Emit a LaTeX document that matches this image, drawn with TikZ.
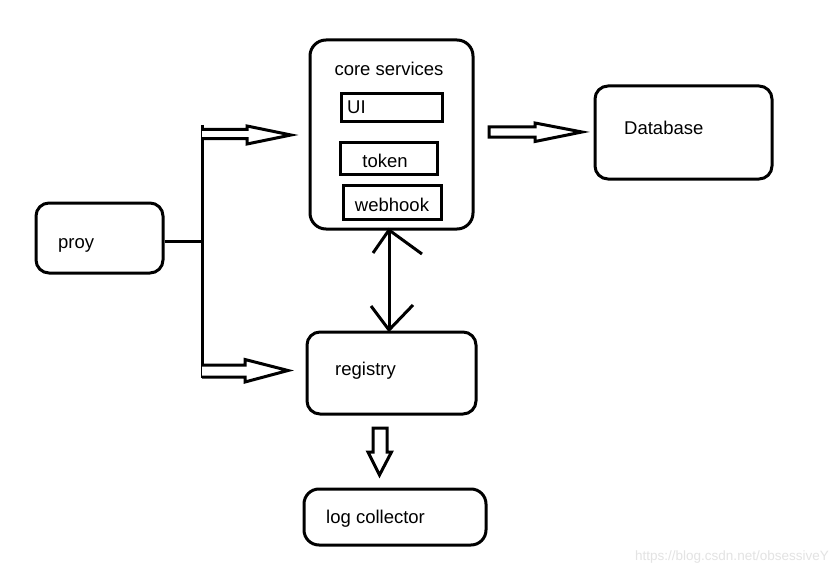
\documentclass[tikz,border=0pt]{standalone}
\usepackage{fontspec}
\setmainfont{Liberation Sans}
\begin{document}
\begin{tikzpicture}[x=1pt,y=-1pt,
  box/.style={draw=black, line width=3pt, rounded corners=13pt, inner sep=0pt},
  sbox/.style={draw=black, line width=3pt, inner sep=0pt},
  lbl/.style={font=\fontsize{18.5}{21}\selectfont, inner sep=0pt, anchor=west},
  blk/.style={draw=black, line width=3pt, fill=white, line join=miter},
  ln/.style={line width=3pt}]
\fill[white] (0,0) rectangle (839,578);
\useasboundingbox (0,0) rectangle (839,578);

% boxes
\node[box, minimum width=127pt, minimum height=70pt] (proy) at (99.5,238) {};
\node[lbl] (tproy) at (58,245) {proy};
\node[box, rounded corners=16pt, minimum width=163pt, minimum height=189pt] (core) at (391.5,134.5) {};
\node[lbl, anchor=center] (tcore) at (389,69) {core services};
\node[sbox, minimum width=101pt, minimum height=28pt] (ui) at (391.5,108) {};
\node[lbl] (tui) at (347,107) {UI};
\node[sbox, minimum width=97pt, minimum height=32pt] (token) at (388.5,158) {};
\node[lbl, anchor=center] (ttoken) at (385,161) {token};
\node[sbox, minimum width=98pt, minimum height=34pt] (webhook) at (392,202) {};
\node[lbl, anchor=center] (twebhook) at (392,205) {webhook};
\node[box, minimum width=177pt, minimum height=93pt] (db) at (683.5,132.5) {};
\node[lbl] (tdb) at (624,128) {Database};
\node[box, minimum width=169pt, minimum height=82pt] (reg) at (391.5,373) {};
\node[lbl] (treg) at (335,371) {registry};
\node[box, rounded corners=15pt, minimum width=182pt, minimum height=56pt] (log) at (395,517) {};
\node[lbl] (tlog) at (326,519) {log collector};
\node[anchor=east, inner sep=0pt, text=black!11, font=\fontsize{13.5}{15}\selectfont] (wm) at (829,557) {https://blog.csdn.net/obsessiveY};

% bus from proy
\coordinate (bt) at (202,125);
\coordinate (bb) at (202,378);
\coordinate (bm) at (202,241);
\draw[ln] (proy.east |- bm) -- (bm);
\draw[ln] (bt) -- (bb);

% hollow arrows to core and registry
\draw[blk] (202,129.5) -- (247,129.5) -- (247,126) -- (291,135) -- (247,144) -- (247,138.5) -- (202,138.5);
\draw[blk] (202,365) -- (245,365) -- (245,359.5) -- (288,370.5) -- (245,382) -- (245,377) -- (202,377);
% hollow arrow to database
\draw[blk] (489,127) -- (535,127) -- (535,123) -- (582,132) -- (535,141.5) -- (535,137) -- (489,137) -- cycle;
% hollow arrow down to log collector
\draw[blk] (373,428) -- (387,428) -- (387,452) -- (391.5,452) -- (379.5,475) -- (368,452) -- (373,452) -- cycle;

% double arrow core <-> registry
\coordinate (da) at (389,230);
\coordinate (db2) at (389,330);
\draw[ln] (da) -- (db2);
\draw[ln] (373,253) -- (da) -- (422,254);
\draw[ln] (371,306) -- (db2) -- (413,305);
\end{tikzpicture}
\end{document}
